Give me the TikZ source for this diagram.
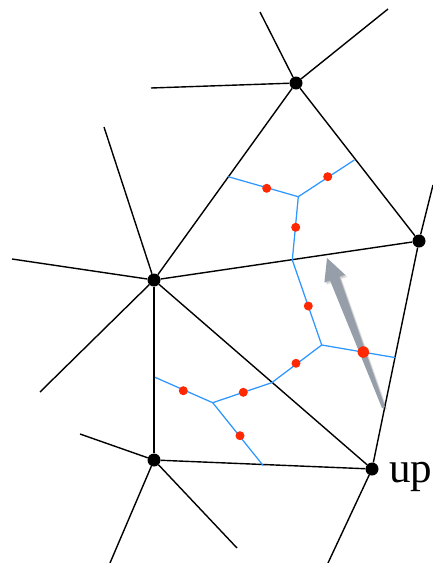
\documentclass[tikz,border=0pt]{standalone}
\usepackage{fontspec}
\setmainfont{Liberation Serif}
\begin{document}
\begin{tikzpicture}[x=1pt,y=-1pt,
  edge/.style={line width=1.4pt,black},
  vor/.style={line width=1.25pt,color=voronoi},
  vertexdot/.style={circle,fill=black,inner sep=0pt,minimum size=13pt},
  reddot/.style={circle,fill=dotred,inner sep=0pt,minimum size=9pt},
  bigreddot/.style={circle,fill=dotred,inner sep=0pt,minimum size=11.5pt}]
\definecolor{voronoi}{RGB}{45,150,255}
\definecolor{dotred}{RGB}{255,40,0}
\definecolor{arrowgray}{RGB}{150,158,170}
\useasboundingbox (0,0) rectangle (433,563);
% main vertices
\node[vertexdot] (A) at (296,83) {};
\node[vertexdot] (B) at (419,241) {};
\node[vertexdot] (C) at (154,280) {};
\node[vertexdot] (D) at (154,460) {};
\node[vertexdot] (E) at (372,469) {};
\node[anchor=base west,font=\fontsize{43}{47}\selectfont,inner sep=0pt] (up) at (389,482) {up};
% free ends
\coordinate (a1) at (260,12);
\coordinate (a2) at (388,9);
\coordinate (a3) at (151,88);
\coordinate (c1) at (104,127);
\coordinate (c2) at (12,259);
\coordinate (c3) at (40,392);
\coordinate (d1) at (80,434);
\coordinate (d2) at (110,563);
\coordinate (d3) at (237,548);
\coordinate (e1) at (328,563);
\coordinate (b1) at (433,185);
% black edges
\draw[edge] (A) -- (C);
\draw[edge] (A) -- (B);
\draw[edge] (C) -- (B);
\draw[edge] (C) -- (D);
\draw[edge] (C) -- (E);
\draw[edge] (D) -- (E);
\draw[edge] (B) -- (E);
\draw[edge] (A) -- (a1);
\draw[edge] (A) -- (a2);
\draw[edge] (A) -- (a3);
\draw[edge] (C) -- (c1);
\draw[edge] (C) -- (c2);
\draw[edge] (C) -- (c3);
\draw[edge] (D) -- (d1);
\draw[edge] (D) -- (d2);
\draw[edge] (D) -- (d3);
\draw[edge] (E) -- (e1);
\draw[edge] (B) -- (b1);
% blue dual graph
\coordinate (j1) at (298.3,196.7);
\coordinate (m1) at (228.3,176.7);
\coordinate (m2) at (354.3,160);
\coordinate (m3) at (292.3,260);
\coordinate (j2) at (321.7,345);
\coordinate (m4) at (395.7,357.7);
\coordinate (m5) at (271.7,382.7);
\coordinate (j3) at (212.7,402.7);
\coordinate (m6) at (155,377.3);
\coordinate (m7) at (263.3,465.7);
\draw[vor] (m1) -- (j1) -- (m2);
\draw[vor] (j1) -- (m3) -- (j2) -- (m4);
\draw[vor] (j2) -- (m5) -- (j3) -- (m6);
\draw[vor] (j3) -- (m7);
% red dots
\node[reddot] (r1) at (266.7,188.3) {};
\node[reddot] (r2) at (327.7,176.7) {};
\node[reddot] (r3) at (295.7,227.3) {};
\node[reddot] (r4) at (308.3,306) {};
\node[reddot] (r5) at (296,363.3) {};
\node[reddot] (r6) at (243.3,392.3) {};
\node[reddot] (r7) at (183.3,390.7) {};
\node[reddot] (r8) at (240,435.7) {};
% gray arrow (with soft shadow)
\coordinate (tail) at (383.5,407);
\coordinate (tip) at (327,258);
\foreach \o/\op in {2.5/0.06,1.8/0.08,1.1/0.1} {
  \fill[black,opacity=\op,shift={(\o,\o)}]
    (385,407) -- (339.4,276.8) -- (345,274.7) -- (327,258) -- (324.4,282.5) -- (330,280.4) -- (382,408) -- cycle;
}
\fill[arrowgray]
    (385,407) -- (339.4,276.8) -- (345,274.7) -- (tip) -- (324.4,282.5) -- (330,280.4) -- (382,408) -- cycle;
\node[bigreddot] (r9) at (363.3,352) {};
\end{tikzpicture}
\end{document}
